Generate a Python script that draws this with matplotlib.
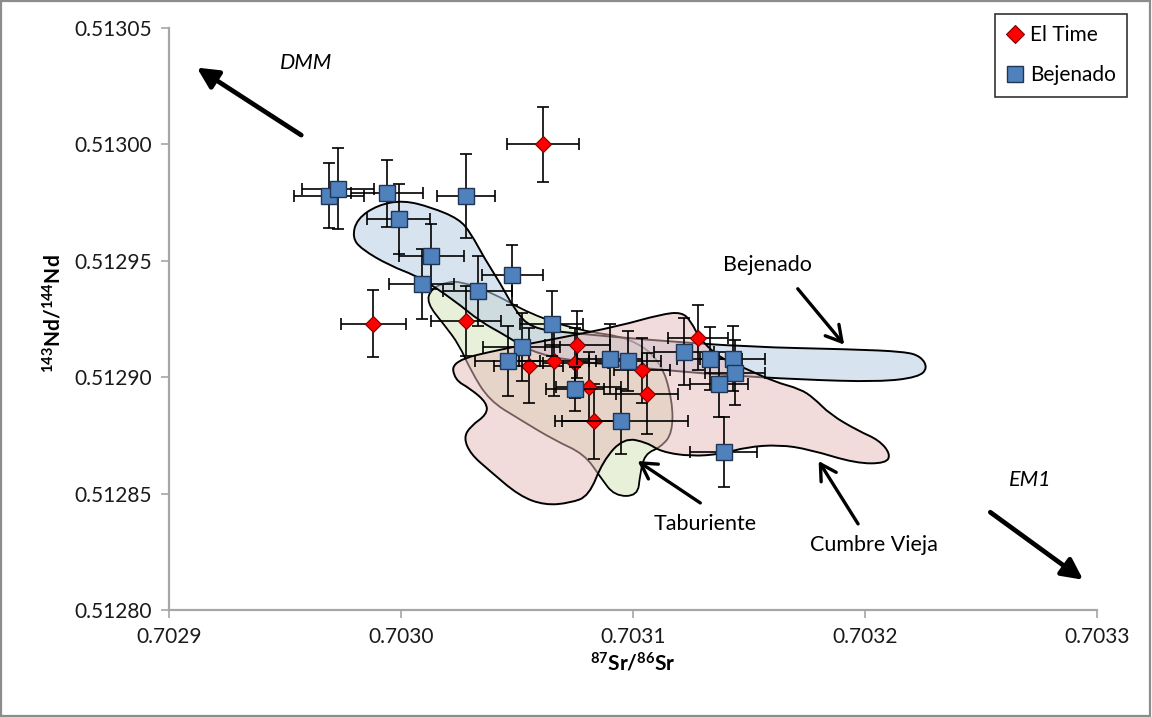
import numpy as np
import matplotlib
matplotlib.use('Agg')
import matplotlib.pyplot as plt
from matplotlib.path import Path
from matplotlib.patches import PathPatch, FancyArrowPatch, Rectangle
from matplotlib.lines import Line2D
from matplotlib.colors import to_rgba

plt.rcParams['font.family'] = ['Lato', 'DejaVu Sans']
plt.rcParams['mathtext.fontset'] = 'custom'
plt.rcParams['mathtext.rm'] = 'Lato'
plt.rcParams['mathtext.bf'] = 'Lato:bold'

# El Time samples: 87Sr/86Sr, 143Nd/144Nd and 2-sigma errors
eltime_sr = [0.703061, 0.702988, 0.703028, 0.703076, 0.703055, 0.703066,
             0.703075, 0.703081, 0.703083, 0.703104, 0.703106, 0.703128]
eltime_nd = [0.513000, 0.512923, 0.512924, 0.512914, 0.512905, 0.512907,
             0.512906, 0.512896, 0.512881, 0.512903, 0.512893, 0.512917]
eltime_sr_err = [1.55e-5, 1.40e-5, 1.50e-5, 1.40e-5, 1.50e-5, 1.50e-5,
                 1.40e-5, 1.40e-5, 1.35e-5, 1.20e-5, 1.35e-5, 1.30e-5]
eltime_nd_err = [1.60e-5, 1.45e-5, 1.50e-5, 1.45e-5, 1.60e-5, 1.50e-5,
                 1.50e-5, 1.50e-5, 1.60e-5, 1.40e-5, 1.75e-5, 1.40e-5]

# Bejenado samples
bej_sr = [0.702969, 0.702973, 0.702994, 0.703028, 0.702999, 0.703013,
          0.703048, 0.703009, 0.703033, 0.703065, 0.703052, 0.703046,
          0.703090, 0.703098, 0.703075, 0.703095, 0.703122, 0.703133,
          0.703143, 0.703144, 0.703137, 0.703139]
bej_nd = [0.512978, 0.512981, 0.512979, 0.512978, 0.512968, 0.512952,
          0.512944, 0.512940, 0.512937, 0.512923, 0.512913, 0.512907,
          0.512908, 0.512907, 0.512895, 0.512881, 0.512911, 0.512908,
          0.512908, 0.512902, 0.512897, 0.512868]
bej_sr_err = [1.50e-5, 1.55e-5, 1.55e-5, 1.25e-5, 1.35e-5, 1.40e-5,
              1.30e-5, 1.40e-5, 1.50e-5, 1.35e-5, 1.65e-5, 1.40e-5,
              1.40e-5, 1.40e-5, 1.25e-5, 2.85e-5, 1.30e-5, 1.40e-5,
              1.40e-5, 1.30e-5, 1.25e-5, 1.45e-5]
bej_nd_err = [1.40e-5, 1.75e-5, 1.45e-5, 1.80e-5, 1.50e-5, 1.40e-5,
              1.30e-5, 1.50e-5, 1.50e-5, 1.40e-5, 1.45e-5, 1.50e-5,
              1.50e-5, 1.30e-5, 0.95e-5, 1.40e-5, 1.45e-5, 1.35e-5,
              1.40e-5, 1.40e-5, 1.40e-5, 1.50e-5]

# literature fields (outline vertices)
field_bejenado_sr = [0.702979, 0.702981, 0.702990, 0.703001, 0.703013, 0.703025,
                     0.703030, 0.703036, 0.703043, 0.703049, 0.703056, 0.703073,
                     0.703107, 0.703150, 0.703194, 0.703217, 0.703224, 0.703227,
                     0.703223, 0.703206, 0.703172, 0.703138, 0.703103, 0.703073,
                     0.703056, 0.703045, 0.703034, 0.703023, 0.703008, 0.702995,
                     0.702983]
field_bejenado_nd = [0.512960, 0.512968, 0.512974, 0.512976, 0.512973, 0.512968,
                     0.512962, 0.512951, 0.512940, 0.512929, 0.512921, 0.512919,
                     0.512916, 0.512913, 0.512912, 0.512911, 0.512909, 0.512904,
                     0.512900, 0.512898, 0.512899, 0.512901, 0.512904, 0.512907,
                     0.512911, 0.512918, 0.512924, 0.512933, 0.512943, 0.512948,
                     0.512955]

field_taburiente_sr = [0.703011, 0.703013, 0.703020, 0.703026, 0.703038, 0.703056,
                       0.703077, 0.703099, 0.703112, 0.703117, 0.703117, 0.703112,
                       0.703105, 0.703103, 0.703102, 0.703092, 0.703086, 0.703079,
                       0.703066, 0.703051, 0.703038, 0.703030, 0.703025, 0.703019]
field_taburiente_nd = [0.512932, 0.512938, 0.512941, 0.512941, 0.512937, 0.512927,
                       0.512920, 0.512917, 0.512907, 0.512890, 0.512876, 0.512870,
                       0.512867, 0.512858, 0.512849, 0.512849, 0.512857, 0.512867,
                       0.512873, 0.512882, 0.512890, 0.512903, 0.512914, 0.512922]

field_cumbre_sr = [0.703022, 0.703043, 0.703069, 0.703094, 0.703112, 0.703121,
                   0.703125, 0.703129, 0.703138, 0.703148, 0.703161, 0.703172,
                   0.703178, 0.703185, 0.703197, 0.703206, 0.703211, 0.703209,
                   0.703196, 0.703176, 0.703163, 0.703149, 0.703138, 0.703125,
                   0.703112, 0.703106, 0.703096, 0.703087, 0.703081, 0.703073,
                   0.703062, 0.703051, 0.703038, 0.703030, 0.703027, 0.703030,
                   0.703037, 0.703037, 0.703030, 0.703023]
field_cumbre_nd = [0.512907, 0.512912, 0.512917, 0.512922, 0.512927, 0.512928,
                   0.512924, 0.512916, 0.512908, 0.512904, 0.512898, 0.512895,
                   0.512891, 0.512884, 0.512877, 0.512873, 0.512867, 0.512863,
                   0.512863, 0.512869, 0.512871, 0.512870, 0.512867, 0.512866,
                   0.512868, 0.512872, 0.512874, 0.512864, 0.512849, 0.512846,
                   0.512845, 0.512849, 0.512860, 0.512867, 0.512874, 0.512879,
                   0.512884, 0.512889, 0.512895, 0.512899]

xticks = [0.7029, 0.7030, 0.7031, 0.7032, 0.7033]
yticks = [0.51280, 0.51285, 0.51290, 0.51295, 0.51300, 0.51305]


def smooth_outline(xs, ys):
    # closed outline made of quadratic bezier pieces through edge midpoints
    pts = np.column_stack([xs, ys])
    mids = (pts + np.roll(pts, -1, axis=0)) / 2
    verts = [mids[-1]]
    codes = [Path.MOVETO]
    for i in range(len(pts)):
        verts += [pts[i], mids[i]]
        codes += [Path.CURVE3, Path.CURVE3]
    verts.append(mids[-1])
    codes.append(Path.CLOSEPOLY)
    return Path(verts, codes)


fig = plt.figure(figsize=(11.52, 7.17), dpi=100, facecolor='white')
fig.patches.append(Rectangle((0.001, 0.002), 0.997, 0.996, transform=fig.transFigure,
                             fill=False, edgecolor='#8c8c8c', linewidth=1.6))

ax = fig.add_axes((0.1467, 0.1492, 0.8056, 0.8117))
ax.set_xlim(0.7029, 0.7033)
ax.set_ylim(0.51280, 0.51305)

# fields: green under blue under pink, fills translucent, outlines solid
ax.add_patch(PathPatch(smooth_outline(field_taburiente_sr, field_taburiente_nd),
                       facecolor=to_rgba('#d7e4bd', 0.55), edgecolor='black', lw=1.3, zorder=1))
ax.add_patch(PathPatch(smooth_outline(field_bejenado_sr, field_bejenado_nd),
                       facecolor=to_rgba('#b9cde5', 0.55), edgecolor='black', lw=1.4, zorder=1.5))
ax.add_patch(PathPatch(smooth_outline(field_cumbre_sr, field_cumbre_nd),
                       facecolor=to_rgba('#e6b9b8', 0.5), edgecolor='black', lw=1.4, zorder=2))

# data with error bars
ax.errorbar(eltime_sr, eltime_nd, xerr=eltime_sr_err, yerr=eltime_nd_err, fmt='none',
            ecolor='black', elinewidth=1.2, capsize=4, capthick=1.2, zorder=4)
ax.plot(eltime_sr, eltime_nd, ls='none', marker='D', ms=8.5, mfc='#ff0000',
        mec='#7f0000', mew=0.8, zorder=5)
ax.errorbar(bej_sr, bej_nd, xerr=bej_sr_err, yerr=bej_nd_err, fmt='none',
            ecolor='black', elinewidth=1.2, capsize=4, capthick=1.2, zorder=6)
ax.plot(bej_sr, bej_nd, ls='none', marker='s', ms=12, mfc='#4f81bd',
        mec='#1f3555', mew=1.0, zorder=7)

# end-member arrows
big = dict(arrowstyle='-|>,head_length=0.9,head_width=0.45', color='black', lw=3.4,
           mutation_scale=14, shrinkA=0, shrinkB=0, zorder=8)
ax.add_patch(FancyArrowPatch((0.702957, 0.513004), (0.702912, 0.513033), **big))
ax.add_patch(FancyArrowPatch((0.703254, 0.512842), (0.703294, 0.512813), **big))
ax.text(0.702959, 0.513035, 'DMM', style='italic', fontsize=15.5, ha='center', va='center')
ax.text(0.703271, 0.512856, 'EM1', style='italic', fontsize=15.5, ha='center', va='center')

# field labels
small = dict(arrowstyle='->,head_length=0.7,head_width=0.4', color='black', lw=2.4,
             mutation_scale=16, shrinkA=0, shrinkB=0, zorder=8)
ax.add_patch(FancyArrowPatch((0.703171, 0.512938), (0.703191, 0.512914), **small))
ax.add_patch(FancyArrowPatch((0.703129, 0.512846), (0.703102, 0.512864), **small))
ax.add_patch(FancyArrowPatch((0.703197, 0.512837), (0.703180, 0.512864), **small))
ax.text(0.703158, 0.512948, 'Bejenado', fontsize=15.5, ha='center', va='center')
ax.text(0.703131, 0.512837, 'Taburiente', fontsize=15.5, ha='center', va='center')
ax.text(0.703204, 0.512828, 'Cumbre Vieja', fontsize=15.5, ha='center', va='center')

# axes styling
for s in ['top', 'right']:
    ax.spines[s].set_visible(False)
for s in ['left', 'bottom']:
    ax.spines[s].set_color('#a6a6a6')
    ax.spines[s].set_linewidth(1.6)
ax.set_xticks(xticks)
ax.set_yticks(yticks)
ax.set_xticklabels(['%.4f' % v for v in xticks])
ax.set_yticklabels(['%.5f' % v for v in yticks])
ax.tick_params(direction='out', length=6, width=1.2, color='#a6a6a6',
               labelsize=15, pad=6, labelcolor='#1a1a1a')

ax.set_xlabel(r'$\mathbf{^{87}Sr/^{86}Sr}$', fontsize=15)
ax.set_ylabel(r'$\mathbf{^{143}Nd/^{144}Nd}$', fontsize=15)
ax.xaxis.set_label_coords(0.5, -0.072)
ax.yaxis.set_label_coords(-0.112, 0.51)

handles = [Line2D([], [], ls='none', marker='D', ms=9, mfc='#ff0000', mec='#7f0000', mew=0.8),
           Line2D([], [], ls='none', marker='s', ms=12, mfc='#4f81bd', mec='#1f3555', mew=1.0)]
leg = ax.legend(handles, ['El Time', 'Bejenado'], loc='upper right',
                bbox_to_anchor=(1127 / 1152, 1 - 14 / 717), bbox_transform=fig.transFigure,
                fancybox=False, frameon=True, edgecolor='black', fontsize=15,
                handlelength=0.8, handletextpad=0.3, labelspacing=0.95, borderpad=0.55,
                borderaxespad=0)
leg.get_frame().set_linewidth(1.2)

fig.savefig('out.png', dpi=100, facecolor='white')
